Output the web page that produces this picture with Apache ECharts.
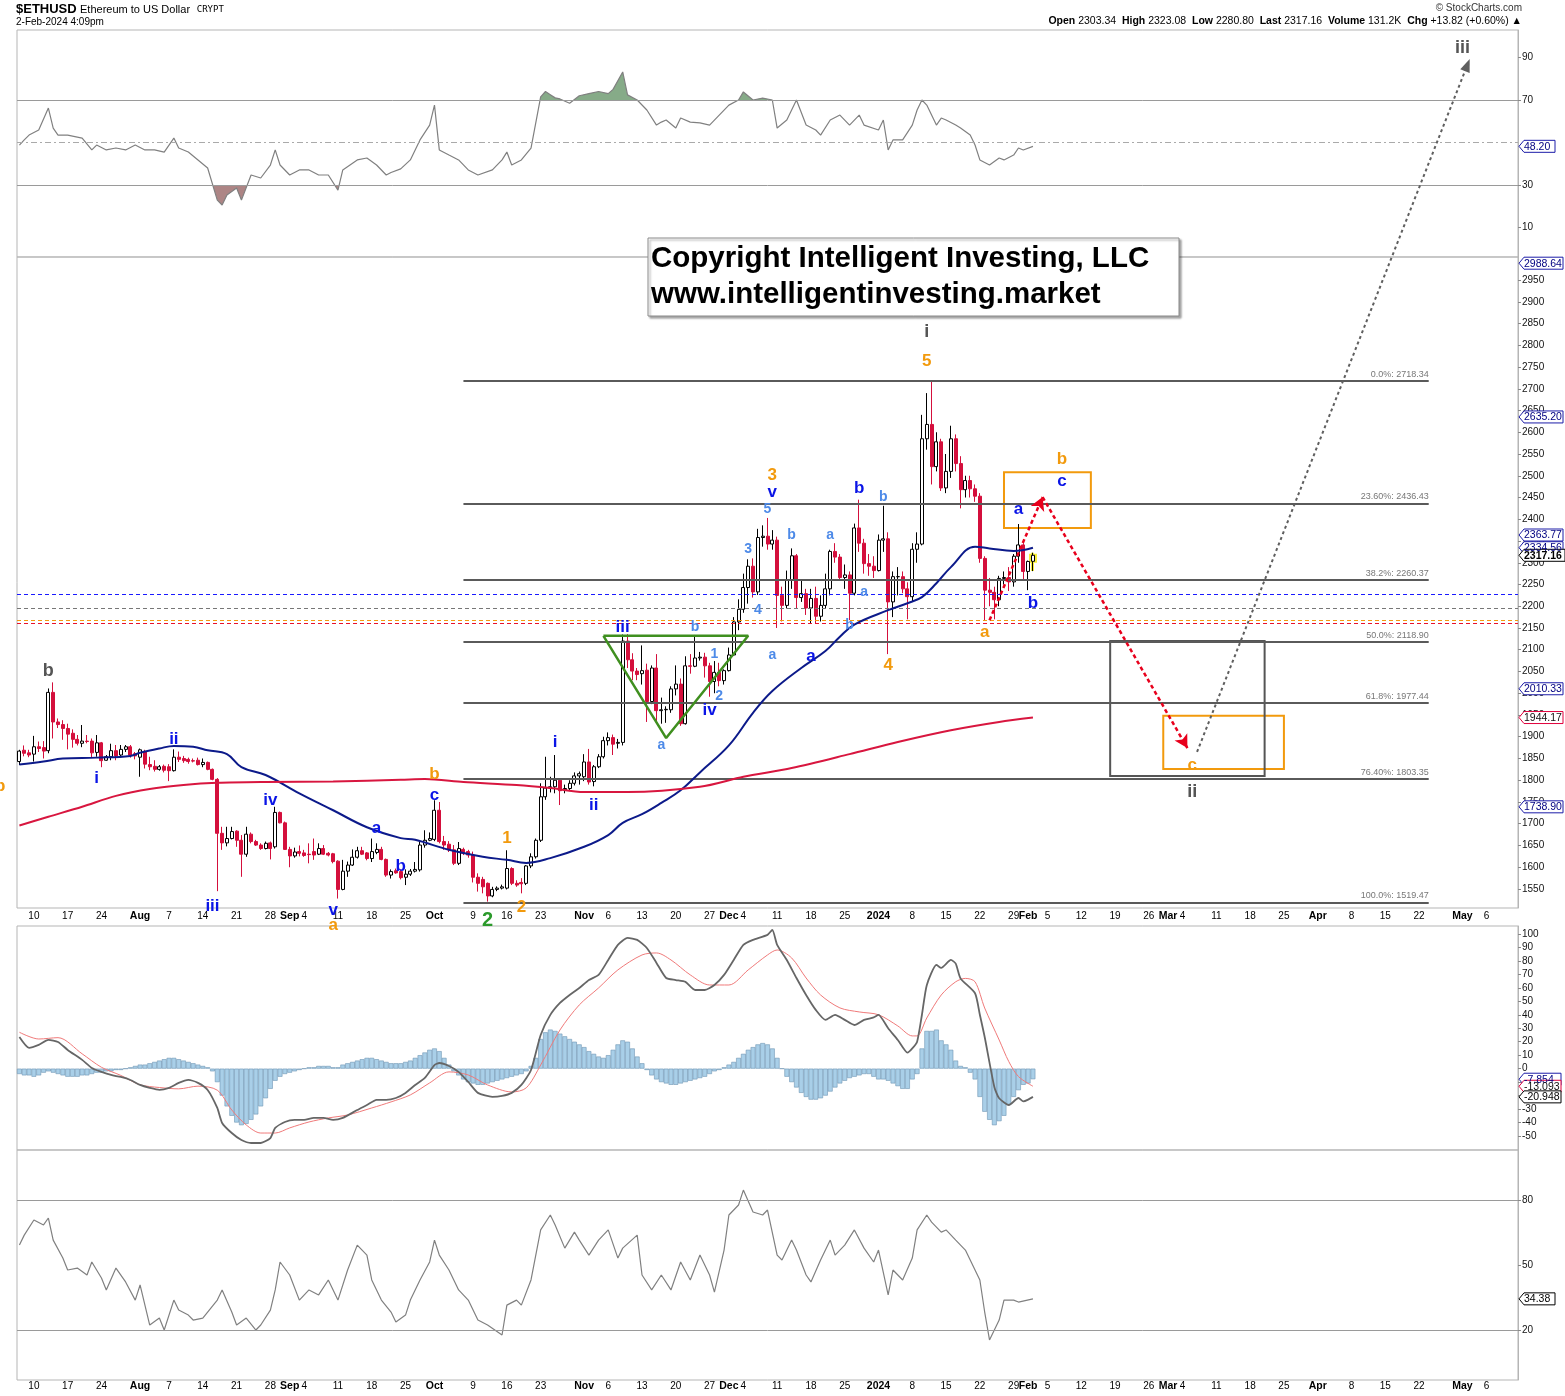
<!DOCTYPE html>
<html><head><meta charset="utf-8">
<script src="https://cdn.jsdelivr.net/npm/echarts@6/dist/echarts.min.js"></script>
<style>html,body{margin:0;padding:0;background:#fff}#c{width:1565px;height:1396px}</style>
</head><body><div id="c"></div>
<script>
// ---------- DATA ----------
const startDate = '2023-07-07';
const dayCount = 311; // Jul 7 2023 .. May 12 2024

// [open, close, low, high]
const ohlc = [
[1843,1867,1835,1870],[1869,1862,1855,1880],[1863,1858,1853,1870],[1860,1877,1843,1902],[1877,1873,1865,1889],
[1875,1867,1850,1890],[1868,2002,1862,2011],[2002,1934,1896,2025],[1934,1928,1920,1942],[1928,1919,1893,1938],
[1919,1906,1871,1930],[1908,1894,1875,1917],[1894,1885,1880,1904],[1885,1890,1876,1927],[1890,1889,1885,1904],
[1890,1863,1852,1896],[1864,1886,1854,1904],[1886,1845,1830,1888],[1846,1854,1845,1858],[1854,1868,1846,1884],
[1868,1856,1846,1881],[1858,1871,1853,1881],[1871,1877,1865,1881],[1877,1858,1852,1881],[1861,1856,1848,1865],
[1853,1870,1808,1873],[1866,1837,1827,1870],[1836,1831,1823,1854],[1832,1825,1820,1846],[1825,1831,1822,1835],
[1832,1823,1818,1836],[1831,1822,1798,1837],[1822,1853,1820,1871],[1853,1848,1842,1866],[1850,1845,1840,1856],
[1848,1843,1838,1852],[1845,1844,1841,1850],[1846,1836,1834,1852],[1836,1841,1830,1850],[1841,1825,1823,1843],
[1825,1802,1800,1827],[1802,1678,1545,1805],[1678,1656,1640,1693],[1656,1666,1648,1693],[1666,1682,1664,1693],
[1683,1662,1647,1685],[1662,1630,1578,1674],[1630,1676,1624,1693],[1676,1659,1655,1680],[1659,1651,1649,1663],
[1651,1643,1640,1655],[1643,1655,1641,1659],[1656,1643,1618,1659],[1647,1726,1643,1739],[1726,1702,1701,1728],
[1702,1641,1640,1705],[1641,1626,1600,1647],[1626,1635,1622,1645],[1636,1632,1625,1650],[1633,1627,1624,1640],
[1630,1629,1609,1655],[1636,1628,1617,1666],[1630,1643,1628,1655],[1643,1630,1628,1651],[1632,1628,1625,1635],
[1631,1613,1609,1633],[1614,1549,1528,1616],[1549,1591,1547,1617],[1591,1605,1578,1613],[1605,1623,1603,1641],
[1623,1638,1620,1647],[1638,1630,1628,1647],[1633,1620,1616,1635],[1620,1636,1612,1666],[1634,1641,1630,1655],
[1641,1618,1616,1647],[1618,1582,1578,1620],[1582,1590,1574,1595],[1592,1587,1585,1597],[1590,1576,1572,1595],
[1577,1584,1559,1595],[1584,1591,1580,1596],[1591,1595,1588,1612],[1594,1651,1590,1659],[1651,1662,1645,1685],
[1662,1666,1660,1680],[1664,1731,1660,1754],[1731,1659,1655,1750],[1659,1651,1640,1672],[1653,1640,1635,1660],
[1640,1609,1605,1651],[1609,1643,1605,1658],[1641,1632,1628,1645],[1636,1628,1622,1640],[1628,1577,1565,1636],
[1577,1563,1544,1586],[1572,1555,1540,1578],[1563,1534,1521,1565],[1534,1549,1531,1555],[1549,1552,1545,1556],
[1552,1555,1549,1560],[1552,1597,1549,1639],[1597,1563,1559,1600],[1563,1559,1555,1570],[1565,1562,1540,1575],
[1563,1603,1559,1605],[1603,1624,1598,1632],[1624,1662,1620,1666],[1662,1762,1658,1793],[1762,1782,1755,1854],
[1782,1785,1772,1808],[1785,1800,1770,1858],[1800,1776,1743,1805],[1778,1781,1770,1790],[1781,1793,1775,1800],
[1793,1810,1788,1818],[1810,1815,1790,1820],[1808,1842,1798,1860],[1842,1796,1790,1872],[1797,1831,1786,1835],
[1831,1854,1828,1860],[1854,1891,1850,1900],[1891,1898,1880,1910],[1898,1883,1858,1905],[1885,1887,1873,1895],
[1887,2120,1880,2135],[2120,2077,2058,2136],[2077,2051,2030,2092],[2051,2043,2030,2058],[2045,2052,2020,2110],
[2053,1981,1934,2068],[1981,2058,1975,2064],[2058,1960,1935,2090],[1960,1962,1930,1990],[1962,1963,1932,1970],
[1962,2010,1955,2016],[2010,2021,1995,2064],[2021,1930,1925,2034],[1930,2063,1928,2085],[2063,2062,2045,2090],
[2062,2081,2060,2134],[2081,2083,2075,2095],[2083,2063,2036,2093],[2063,2027,1992,2070],[2027,2048,2000,2074],
[2048,2029,2016,2070],[2029,2052,2020,2055],[2052,2088,2050,2105],[2088,2164,2086,2175],[2164,2193,2145,2216],
[2193,2243,2185,2275],[2243,2292,2206,2308],[2292,2233,2220,2310],[2233,2358,2226,2378],[2358,2361,2337,2386],
[2361,2343,2330,2403],[2343,2352,2330,2375],[2352,2225,2150,2360],[2225,2202,2165,2245],[2202,2260,2195,2282],
[2260,2316,2240,2333],[2316,2220,2195,2320],[2220,2229,2210,2260],[2229,2196,2180,2240],[2196,2218,2160,2240],
[2218,2177,2160,2245],[2177,2202,2165,2225],[2202,2240,2195,2275],[2240,2326,2225,2330],[2326,2313,2300,2345],
[2313,2266,2260,2320],[2266,2272,2240,2296],[2272,2230,2168,2280],[2230,2380,2225,2390],[2380,2345,2325,2445],
[2345,2298,2275,2355],[2298,2292,2270,2320],[2292,2282,2265,2315],[2282,2352,2280,2365],[2352,2355,2325,2431],
[2355,2210,2090,2370],[2210,2268,2175,2280],[2268,2268,2225,2290],[2268,2240,2230,2280],[2240,2222,2170,2255],
[2222,2331,2210,2345],[2331,2343,2300,2370],[2343,2585,2340,2640],[2585,2618,2560,2690],[2618,2521,2480,2717],
[2521,2578,2510,2600],[2578,2472,2465,2585],[2472,2510,2460,2550],[2510,2585,2495,2615],[2585,2528,2510,2595],
[2528,2468,2425,2545],[2468,2489,2450,2500],[2489,2470,2450,2500],[2470,2453,2440,2480],[2453,2310,2300,2460],
[2310,2237,2168,2315],[2237,2232,2200,2265],[2232,2215,2170,2245],[2215,2264,2200,2270],[2264,2266,2250,2280],
[2266,2256,2235,2290],[2256,2315,2245,2320],[2315,2341,2300,2389],[2341,2280,2260,2345],[2280,2303,2237,2305],
[2303.34,2317.16,2280.80,2323.08]
];

// moving averages: [dayIndex, value]
const blueMA = [[0,1836],[5,1843],[9,1850],[16,1852],[23,1856],[25,1863],[29,1873],[32,1879],[36,1877],[39,1869],
[43,1860],[46,1830],[51,1812],[58,1770],[65,1731],[72,1692],[79,1667],[82,1663],[89,1640],[96,1624],[101,1617],
[105,1610],[110,1621],[117,1647],[122,1674],[125,1702],[129,1722],[133,1748],[137,1777],[141,1818],[147,1880],
[152,1955],[156,2005],[162,2058],[167,2097],[170,2130],[173,2158],[180,2191],[184,2207],[187,2221],[190,2253],
[193,2290],[198,2337],[201,2333],[206,2327],[210,2334.56]];
const redMA = [[0,1696],[6,1716],[13,1739],[20,1764],[27,1780],[34,1789],[41,1794],[51,1796],[65,1797],[79,1801],
[84,1803],[92,1796],[103,1789],[110,1782],[117,1773],[126,1773],[141,1785],[150,1808],[160,1828],[172,1860],
[182,1888],[193,1915],[203,1934],[210,1944.17]];

// top indicator (RSI)
const rsiTop = [[0,48.8],[1,51.2],[2,53.5],[4,55.9],[6,66.2],[7,56.8],[8,53.5],[10,53.5],[13,52.1],[15,46.5],[16,48.8],
[18,46.5],[20,47.4],[22,46.5],[24,48.8],[26,46.5],[28,46.5],[30,45.5],[32,52.1],[33,47.4],[35,45.5],[37,41.8],[39,38],
[41,22.9],[42,20.6],[43,25.3],[45,28.6],[46,22.9],[48,34.7],[50,33.3],[52,39.4],[53,46.5],[54,39.4],[56,34.7],[58,37.1],
[60,37.1],[62,34.7],[64,34.7],[66,27.6],[67,37.1],[70,41.8],[72,42.7],[74,39.4],[76,34.7],[77,35.9],[79,37.6],[81,41.8],
[83,51.2],[85,58.2],[86,67.6],[87,46.5],[89,44.1],[91,41.8],[93,37.1],[95,34.7],[98,37.1],[100,41.8],[101,45.5],[102,39.4],
[104,41.8],[106,47.4],[108,71.5],[109,74],[110,72.5],[111,71],[112,70.5],[114,68.5],[116,72],[118,73],[120,74],[122,73],
[123,75],[125,83.2],[126,72.4],[128,70],[130,65.3],[132,58.2],[133,59.6],[134,60.6],[136,56.8],[137,61.5],[139,59.6],
[141,59.2],[143,58.2],[145,62.9],[147,67.6],[149,70],[150,73.8],[152,70],[154,70.9],[156,70],[157,56.8],[159,60.6],
[161,70],[163,58.2],[165,55.9],[166,53.5],[168,60.6],[170,62.9],[172,58.2],[174,62.9],[175,58.2],[178,55.9],[179,60.6],
[180,46.5],[181,51.2],[183,51.2],[185,58.2],[186,65.3],[187,70],[188,67.6],[190,58.2],[191,61.5],[192,60.6],[194,58.2],
[195,56.8],[197,53.5],[198,48.8],[199,41.8],[201,39.4],[203,42.7],[204,41.8],[206,44.1],[207,47.4],[208,46.5],[210,48.2]];

// MACD panel
const macdLine = [[0,23.5],[2,15.4],[4,17.6],[6,21.3],[8,19.8],[10,13.9],[13,6.5],[15,0.5],[17,-2.4],[19,-4.7],[21,-6.2],
[23,-8.4],[25,-12.1],[27,-14.3],[29,-15.8],[31,-14.3],[33,-10.6],[35,-8.4],[37,-10.6],[39,-15.8],[41,-29.2],[42,-40.3],
[44,-47.8],[46,-53],[48,-55.2],[50,-55.2],[52,-51.5],[53,-44],[55,-39.6],[57,-38.1],[59,-38.1],[61,-36.6],[63,-36.6],
[65,-38.1],[67,-36.6],[70,-30.7],[72,-27],[74,-23.2],[76,-23.2],[78,-21.8],[80,-18],[82,-12.1],[84,-6.9],[86,2.7],
[87,4.2],[89,2],[91,-2.4],[93,-9.9],[95,-18],[98,-21],[100,-20.3],[102,-18],[104,-12.1],[106,-1],[108,25],[110,39.9],
[112,48.8],[114,54.7],[116,59.9],[118,65.8],[120,69.6],[122,80.7],[124,91.9],[126,97.1],[128,95.6],[130,89.6],[132,78.5],
[134,67.3],[136,65.8],[138,64.4],[140,58.4],[142,58.4],[144,62.1],[146,69.6],[148,80.7],[150,91.9],[152,95.6],[155,99.3],
[156,103],[157,91.9],[159,80.7],[161,67.3],[163,54.7],[165,43.6],[167,36.2],[169,39.9],[171,36.2],[173,32.4],[175,36.2],
[177,38],[178,39.9],[180,30],[182,21.3],[184,11.9],[185,15],[186,20],[187,40],[188,62],[190,77],[191,74.8],[193,80.7],
[194,78],[195,67],[198,56],[199,40],[200,23.5],[202,-13.6],[203,-22],[205,-27],[207,-21.8],[208,-24.3],[209,-23],[210,-20.948]];
const signalLine = [[0,27],[4,22],[8,23],[13,11],[17,1],[21,-5],[25,-12],[29,-14],[33,-15],[37,-13],[41,-16],[44,-30.7],
[47,-41.8],[50,-47.8],[53,-47.8],[56,-44],[60,-39.6],[64,-36.6],[68,-34.4],[73,-29.2],[77,-24.7],[81,-19.5],[85,-10.6],
[89,-2.4],[93,-4.7],[97,-12.1],[102,-17.3],[105,-14.3],[108,2.7],[112,28.7],[116,47.3],[120,59.9],[124,73.3],[129,84.4],
[132,85.9],[135,80.7],[139,69.6],[143,62.1],[147,62.1],[151,73.3],[155,84.4],[157,88.1],[160,82.2],[163,67.3],[166,54.7],
[170,45.1],[174,42.1],[178,40],[182,31.7],[185,24.3],[186,24.3],[188,37.6],[191,54.7],[194,64.5],[196,67],[198,64.5],
[200,45],[203,21.3],[205,5.2],[207,-5.9],[210,-13.093]];
const macdHist = [
-4,-5,-5,-6,-5,-3,-2,-3,-4,-5,-6,
-6,-6,-5,-5,-4,-3,-3,-2,-2,-1,
-1,0,1,2,3,3,4,
5,6,7,8,8,7,6,5,4,3,2,
1,-2,
-10,-20,-28,-35,-40,-42,-41,-38,-34,-28,-22,-15,-9,
-6,-4,-3,-2,-1,
0,1,1,2,2,2,1,1,3,4,5,6,7,8,8,7,6,5,4,4,4,5,
6,8,10,12,14,15,13,8,
3,-2,
-5,-8,-10,-11,-12,-12,-11,-10,-9,-8,-7,-6,-5,-4,-2,
2,8,
22,27,29,28,26,24,22,
20,18,16,13,11,9,8,
10,14,18,21,20,15,
9,4,-1,-5,
-8,-10,-11,-12,-12,-11,-10,-9,-8,-7,-6,-4,-2,-1,
1,3,5,8,
11,14,16,18,19,18,15,
8,0,-6,-10,
-14,-18,-21,-23,-23,-22,-20,-17,-14,-11,
-9,-7,-6,-5,-4,-4,-6,
-8,-8,-9,-11,-13,-15,-15,-8,-4,
15,28,28,29,21,18,14,6,2,
1,
-3,-8,-21,-32,-38,-42,-39,-35,-27,-21,-16,-12,-11,-7.854
];

// bottom indicator
const lowerLine = [[0,59.2],[1,63.8],[3,70.8],[5,68.5],[6,71.7],[7,61.5],[9,53.2],[10,47.7],[12,48.6],[14,45.4],[15,51.4],
[17,44],[18,38.5],[20,48.6],[22,42.2],[24,33.8],[25,40.8],[27,22.3],[29,25.5],[30,20],[32,33.8],[33,29.2],[35,26.9],
[36,24.6],[38,25.5],[41,33.8],[42,38.5],[44,28.3],[45,22.3],[47,25.5],[49,20],[50,22.3],[52,29.2],[53,38.5],[54,51.4],
[56,45.4],[58,33.8],[60,38.5],[62,36.2],[64,43.1],[66,33.8],[68,47.7],[70,59.2],[72,54.6],[73,43.1],[75,33.8],[77,28.3],
[78,23.7],[80,26.9],[81,33.8],[83,43.1],[85,51.4],[86,61.5],[87,54.6],[89,47.7],[91,38.5],[93,33.8],[95,24.6],[97,22.3],
[100,17.7],[101,31.5],[103,33.8],[104,31.5],[106,43.1],[108,66.2],[110,73.1],[111,68.5],[113,57.8],[115,65.2],[116,61.5],
[118,54.6],[120,61.5],[122,66.2],[124,53.2],[125,57.8],[128,63.8],[129,45.4],[131,38.5],[133,45.4],[135,38.5],[137,51.4],
[139,43.1],[141,54.6],[143,45.4],[144,37.5],[146,56.9],[147,73.1],[149,77.7],[150,84.6],[152,74.5],[154,73.1],[155,75.4],
[157,54.6],[158,52.3],[160,61.5],[161,56.9],[163,45.4],[164,42.2],[166,52.3],[168,61.5],[169,54.6],[171,59.2],[173,66.2],
[175,57.8],[177,51.4],[178,56.9],[180,36.2],[181,47.7],[183,43.1],[185,53.2],[186,66.2],[188,73.1],[189,69.8],[191,65.2],
[192,66.2],[194,61.5],[196,56.9],[197,52.3],[199,43.1],[200,28.3],[201,15.4],[203,24.6],[204,33.8],[206,33.8],[207,32.9],
[210,34.38]];

// Fibonacci retracement levels
const fibLevels = [2718.34, 2436.43, 2260.37, 2118.90, 1977.44, 1803.35, 1519.47];
const fibLabels = ['0.0%: 2718.34','23.60%: 2436.43','38.2%: 2260.37','50.0%: 2118.90','61.8%: 1977.44','76.40%: 1803.35','100.0%: 1519.47'];
const fibSpan = [92, 292];
// horizontal dashed reference levels
const refLevels = [2228, 2195, 2168, 2162];
const refColors = ['#1a1aff', '#777777', '#f29a0d', '#e8102c'];

// Elliott wave labels [dayIndex, price, text, kind]
const waveLabels = [
[6,2051,'b','gray'],[16,1805,'i','blue'],[32,1893,'ii','blue'],[40,1510,'iii','blue'],[52,1754,'iv','blue'],
[65,1500,'v','blue'],[65,1467,'a','orange'],[74,1690,'a','blue'],[79,1603,'b','blue'],[86,1766,'c','blue'],
[86,1814,'b','orange'],[97,1478,'2','green'],[101,1667,'1','orange'],[104,1508,'2','orange'],[111,1888,'i','blue'],
[119,1743,'ii','blue'],[125,2152,'iii','blue'],[133,1881,'a','lblue'],[140,2152,'b','lblue'],[144,2090,'1','lblue'],
[145,1994,'2','lblue'],[143,1961,'iv','blue'],[151,2332,'3','lblue'],[153,2191,'4','lblue'],[155,2424,'5','lblue'],
[156,2463,'v','blue'],[156,2502,'3','orange'],[160,2364,'b','lblue'],[156,2088,'a','lblue'],[164,2086,'a','blue'],
[168,2364,'a','lblue'],[174,2470,'b','blue'],[179,2451,'b','lblue'],[175,2233,'a','lblue'],[172,2157,'b','lblue'],
[180,2065,'4','orange'],[188,2764,'5','orange'],[188,2830,'i','gray'],[200,2141,'a','orange'],[207,2424,'a','blue'],
[210,2207,'b','blue'],[216,2488,'c','blue'],[216,2538,'b','orange'],[243,1835,'c','orange'],[243,1773,'ii','gray'],
[299,3483,'iii','gray']
];
// projected paths
const redPath = [[201,2168],[212,2451],[242,1874]];
const grayPath = [[244,1865],[300,3444]];
// target boxes [x0, p0, x1, p1, kind]
const boxes = [[204,2508,222,2380,'orange'],[237,1948,262,1826,'orange'],[226,2120,258,1810,'gray']];
// triangle vertices
const triangle = [[121,2132],[151,2132],[134,1897],[121,2132]];

// right-edge value tags
const priceTags = [[2988.64,'navy'],[2635.20,'navy'],[2363.77,'navy'],[2334.56,'navy'],[2010.33,'navy'],[1944.17,'red'],[1738.90,'navy'],[2317.16,'last']];
const rsiTags = [[48.20,'navy']];
const macdTags = [[-7.854,'navy'],[-13.093,'red'],[-20.948,'last2']];
const lowerTags = [[34.38,'last2']];

// axis tick labels
const rsiTicks = [10,30,70,90];
const priceTicks = [1550,1600,1650,1700,1750,1800,1850,1900,1950,2000,2050,2100,2150,2200,2250,2300,2350,2400,2450,2500,2550,2600,2650,2700,2750,2800,2850,2900,2950];
const macdTicks = [100,90,80,70,60,50,40,30,20,10,0,-10,-20,-30,-40,-50];
const lowerTicks = [20,50,80];

// ---------- BUILD ----------
const [sy, sm, sd] = startDate.split('-').map(Number);
const dates = [];
for (let k = 0; k < dayCount; k++) dates.push(new Date(Date.UTC(sy, sm - 1, sd + k)).toISOString().slice(0, 10));
const MONTHS = ['Jan','Feb','Mar','Apr','May','Jun','Jul','Aug','Sep','Oct','Nov','Dec'];
function dayAt(idx) { return new Date(Date.UTC(sy, sm - 1, sd + idx)); }
function labelFor(idx) {
  const d = dayAt(idx), day = d.getUTCDate(), mon = d.getUTCMonth(), wd = d.getUTCDay();
  if (day === 1) return '{b|' + (mon === 0 ? d.getUTCFullYear() : MONTHS[mon]) + '}';
  if (wd === 1) {
    for (let k = -2; k <= 2; k++) if (dayAt(idx + k).getUTCDate() === 1) return null;
    return String(day);
  }
  return null;
}
const FONT = 'Arial, "Liberation Sans", sans-serif';
const C = { blue:'#0a14e6', lblue:'#4d8ae8', orange:'#f29a0d', gray:'#555555', green:'#2b9a2b', red:'#e8001c' };
const SIZE = { blue:17, lblue:14, orange:17, gray:18, green:20 };

const L = 17, R = 47;
const grids = [
  { left:L, right:R, top:30, height:227 },
  { left:L, right:R, top:257, height:651 },
  { left:L, right:R, top:926, height:224 },
  { left:L, right:R, top:1150, height:230 }
].map(g => Object.assign(g, { show:true, borderColor:'#b5b5b5', borderWidth:1, backgroundColor:'transparent' }));

function xAx(gi, showLabels) {
  return {
    type:'category', gridIndex:gi, data:dates, boundaryGap:true,
    axisLine:{ show:false }, axisTick:{ show:false }, splitLine:{ show:false },
    axisLabel: showLabels ? {
      show:true, interval:(i) => labelFor(i) !== null, formatter:(v, i) => labelFor(i) || '',
      fontSize:10, color:'#000', fontFamily:FONT, margin: gi === 1 ? 3 : 1,
      rich:{ b:{ fontWeight:'bold', fontSize:10.5, color:'#000', fontFamily:FONT } }
    } : { show:false }
  };
}
function yAx(gi, min, max, ticks) {
  return {
    type:'value', gridIndex:gi, position:'right', min, max, scale:true,
    axisLine:{ show:true, lineStyle:{ color:'#b5b5b5' } },
    axisTick:{ show:true, length:3, lineStyle:{ color:'#888' }, customValues:ticks },
    axisLabel:{ show:true, fontSize:10, color:'#111', fontFamily:FONT, margin:4, customValues:ticks,
                formatter:(v) => String(v) },
    splitLine:{ show:false }
  };
}

const waveData = waveLabels.map(([i, p, t, k]) => ({
  value:[i, p],
  label:{ show:true, formatter:t, color:C[k], fontSize:SIZE[k], fontWeight:'bold', fontFamily:FONT,
          position:'inside', textBorderWidth:0, opacity:1 }
}));

const fibMarks = fibLevels.map((v, k) => [
  { coord:[fibSpan[0], v], lineStyle:{ color:'#5a5a5a', width:2, type:'solid' },
    label:{ show:true, position:'insideEndTop', formatter:fibLabels[k], color:'#777', fontSize:9, fontFamily:FONT, distance:[0,2] } },
  { coord:[fibSpan[1], v] }
]);
const refMarks = refLevels.map((v, k) => ({ yAxis:v, lineStyle:{ color:refColors[k], type:[4,3], width:1 }, label:{ show:false } }));
const redArrowMarks = [];
for (let k = 0; k < redPath.length - 1; k++) {
  redArrowMarks.push([
    { coord:redPath[k], symbol:'none', lineStyle:{ color:C.red, width:2.5, type:[4,3] } },
    { coord:redPath[k + 1], symbol:'arrow', symbolSize:[11,13] }
  ]);
}
const boxMarks = boxes.map(([x0, p0, x1, p1, k]) => [
  { coord:[x0, p0], itemStyle:{ color:'rgba(0,0,0,0)', borderColor: k === 'orange' ? '#f29a0d' : '#555', borderWidth: 2 } },
  { coord:[x1, p1] }
]);

const lastIdx = ohlc.length - 1;
const highlight = ohlc.map((c, i) => i === lastIdx ? c : '-');

const option = {
  animation:false,
  backgroundColor:'#fff',
  grid:grids,
  xAxis:[xAx(0,false), xAx(1,true), xAx(2,false), xAx(3,true)],
  yAxis:[
    yAx(0, -3.88, 102.94, rsiTicks),
    yAx(1, 1506.3, 3002.9, priceTicks),
    yAx(2, -60.4, 105.9, macdTicks),
    yAx(3, -3.08, 103.1, lowerTicks)
  ],
  visualMap:[{
    type:'piecewise', show:false, seriesIndex:1, dimension:1,
    pieces:[ { gt:70, color:'#86ab88' }, { lt:30, color:'#ad8585' }, { gte:30, lte:70, color:'rgba(255,255,255,0)' } ]
  }],
  series:[
    { type:'line', xAxisIndex:0, yAxisIndex:0, data:rsiTop, symbol:'none', z:3,
      lineStyle:{ color:'#808080', width:1.2 },
      markLine:{ silent:true, symbol:['none','none'], label:{ show:false },
        data:[ { yAxis:70, lineStyle:{ color:'#9a9a9a', width:1, type:'solid' } },
               { yAxis:30, lineStyle:{ color:'#9a9a9a', width:1, type:'solid' } },
               { yAxis:50, lineStyle:{ color:'#aaaaaa', width:1, type:[6,3,2,3] } } ] } },
    { type:'line', xAxisIndex:0, yAxisIndex:0, data:rsiTop, symbol:'none', z:2,
      lineStyle:{ width:0, opacity:0 }, areaStyle:{ origin:50, opacity:1 } },
    { type:'candlestick', xAxisIndex:1, yAxisIndex:1, data:ohlc, barWidth:3.5, clip:false, z:4,
      itemStyle:{ color:'#ffffff', borderColor:'#000000', color0:'#d40f3c', borderColor0:'#d40f3c', borderWidth:1 },
      markLine:{ silent:true, symbol:['none','none'], animation:false, data:[...refMarks, ...fibMarks] },
      markArea:{ silent:true, data:boxMarks } },
    { type:'candlestick', xAxisIndex:1, yAxisIndex:1, data:highlight, barWidth:6, z:3,
      itemStyle:{ color:'#f7ee3a', borderColor:'#f7ee3a', color0:'#f7ee3a', borderColor0:'#f7ee3a', borderWidth:3 } },
    { type:'line', xAxisIndex:1, yAxisIndex:1, data:blueMA, symbol:'none', smooth:0.4, z:5,
      lineStyle:{ color:'#0c1a8a', width:2 } },
    { type:'line', xAxisIndex:1, yAxisIndex:1, data:redMA, symbol:'none', smooth:0.3, z:5,
      lineStyle:{ color:'#d8163f', width:2 } },
    { type:'line', xAxisIndex:1, yAxisIndex:1, data:triangle, symbol:'none', clip:false, z:6,
      lineStyle:{ color:'#3f8f1f', width:2.5 },
      markLine:{ silent:true, symbol:['none','arrow'], label:{ show:false }, data:redArrowMarks } },
    { type:'line', xAxisIndex:1, yAxisIndex:1, data:grayPath, clip:false, z:8, symbol:'none',
      lineStyle:{ color:'#5f5f5f', width:2, type:[3,3] } },
    { id:'grayHead', type:'scatter', xAxisIndex:1, yAxisIndex:1, data:[grayPath[1]], clip:false, z:8,
      symbol:'triangle', symbolSize:[10,13], symbolRotate:0, itemStyle:{ color:'#5f5f5f', opacity:1 } },
    { type:'scatter', xAxisIndex:1, yAxisIndex:1, data:waveData, symbolSize:1, clip:false, z:10,
      itemStyle:{ color:'rgba(0,0,0,0)', opacity:1 } },
    { type:'bar', xAxisIndex:2, yAxisIndex:2, data:macdHist, barCategoryGap:'0%', z:2,
      itemStyle:{ color:'#a9cfe8', borderColor:'#6f96b4', borderWidth:0.6 } },
    { type:'line', xAxisIndex:2, yAxisIndex:2, data:signalLine, symbol:'none', smooth:0.3, z:3,
      lineStyle:{ color:'#f07a7a', width:1 } },
    { type:'line', xAxisIndex:2, yAxisIndex:2, data:macdLine, symbol:'none', smooth:0.2, z:4,
      lineStyle:{ color:'#666666', width:1.8 } },
    { type:'line', xAxisIndex:3, yAxisIndex:3, data:lowerLine, symbol:'none', z:3,
      lineStyle:{ color:'#808080', width:1.2 },
      markLine:{ silent:true, symbol:['none','none'], label:{ show:false },
        data:[ { yAxis:80, lineStyle:{ color:'#9a9a9a', width:1, type:'solid' } },
               { yAxis:20, lineStyle:{ color:'#9a9a9a', width:1, type:'solid' } } ] } }
  ],
  graphic:[
    { id:'hdr1', type:'text', left:16, top:3, z:50, style:{ text:'{a|$ETHUSD} {b|Ethereum to US Dollar}  {c|CRYPT}',
      rich:{ a:{ fontSize:13, fontWeight:'bold', fontFamily:FONT, fill:'#000' }, b:{ fontSize:11, fontFamily:FONT, fill:'#000' },
             c:{ fontSize:9, fontFamily:'"DejaVu Sans Mono", monospace', fill:'#000' } } } },
    { id:'hdr2', type:'text', left:16, top:17, z:50, style:{ text:'2-Feb-2024 4:09pm', fontSize:10, fontFamily:FONT, fill:'#000' } },
    { id:'hdr3', type:'text', right:43, top:3, z:50, style:{ text:'© StockCharts.com', fontSize:10, fontFamily:FONT, fill:'#333' } },
    { id:'hdr4', type:'text', right:43, top:16, z:50, style:{
      text:'{k|Open} 2303.34  {k|High} 2323.08  {k|Low} 2280.80  {k|Last} 2317.16  {k|Volume} 131.2K  {k|Chg} +13.82 (+0.60%) ▲',
      fontSize:10.5, fontFamily:FONT, fill:'#000', rich:{ k:{ fontWeight:'bold', fontSize:10.5, fontFamily:FONT } } } },
    { id:'cpbox', type:'rect', shape:{ x:648, y:238, width:531, height:78 }, z:40,
      style:{ fill:'#fff', stroke:'#8a8a8a', lineWidth:1, shadowBlur:2, shadowOffsetX:2, shadowOffsetY:2, shadowColor:'rgba(0,0,0,0.35)' } },
    { id:'cp1', type:'text', x:651, y:259, z:41, style:{ text:'Copyright Intelligent Investing, LLC', font:'bold 29.5px Arial, "Liberation Sans", sans-serif', fill:'#000', verticalAlign:'middle' } },
    { id:'cp2', type:'text', x:651, y:295, z:41, style:{ text:'www.intelligentinvesting.market', font:'bold 29.5px Arial, "Liberation Sans", sans-serif', fill:'#000', verticalAlign:'middle' } },
    { id:'bcut', type:'text', x:-5, y:786, z:41, style:{ text:'b', font:'bold 17px Arial, "Liberation Sans", sans-serif', fill:'#f29a0d', verticalAlign:'middle' } }
  ]
};

const chart = echarts.init(document.getElementById('c'), null, { renderer:'canvas' });
chart.setOption(option);

// arrowhead for the gray projection: rotate along the path as drawn by the axes
const gp0 = chart.convertToPixel({ xAxisIndex:1, yAxisIndex:1 }, grayPath[0]);
const gp1 = chart.convertToPixel({ xAxisIndex:1, yAxisIndex:1 }, grayPath[1]);
const ang = Math.atan2(gp1[0] - gp0[0], gp0[1] - gp1[1]) * 180 / Math.PI;

// value tags on the right edge, positioned through the axes' scales
const TAGSTYLE = {
  navy:{ stroke:'#1c1ca8', fill:'#000080', bold:false },
  red:{ stroke:'#e0003c', fill:'#111', bold:false },
  last:{ stroke:'#000', fill:'#000', bold:true },
  last2:{ stroke:'#000', fill:'#000', bold:false }
};
const tagEls = [];
function addTags(list, axisIdx, prefix, w) {
  list.forEach(([v, k], n) => {
    const y = chart.convertToPixel({ yAxisIndex:axisIdx }, v);
    const s = TAGSTYLE[k];
    const x0 = 1519, x1 = 1519 + w + (s.bold ? 2 : 0);
    tagEls.push({ id:prefix + n + 'p', type:'polygon', z:60,
      shape:{ points:[[x0, y], [x0 + 5, y - 6], [x1, y - 6], [x1, y + 6], [x0 + 5, y + 6]] },
      style:{ fill:'#fff', stroke:s.stroke, lineWidth:1 } });
    tagEls.push({ id:prefix + n + 't', type:'text', x:x0 + 5, y:y + 0.5, z:61,
      style:{ text: v.toFixed(prefix === 'm' ? 3 : 2), fill:s.fill, verticalAlign:'middle',
              font:(s.bold ? 'bold ' : '') + '10.5px Arial, "Liberation Sans", sans-serif' } });
  });
}
addTags(priceTags, 1, 'p', 44);
addTags(rsiTags, 0, 'r', 36);
addTags(macdTags, 2, 'm', 42);
addTags(lowerTags, 3, 'l', 36);
chart.setOption({
  graphic: tagEls,
  series: [{ id:'grayHead', symbolRotate: -ang }]
});
</script></body></html>
